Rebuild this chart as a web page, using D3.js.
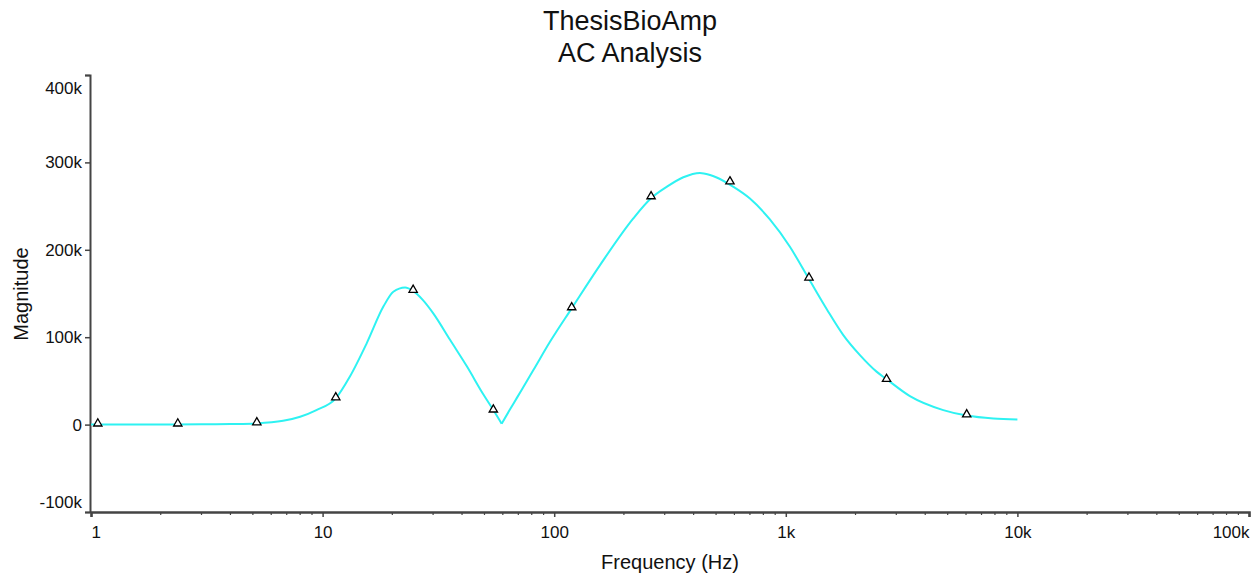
<!DOCTYPE html>
<html>
<head>
<meta charset="utf-8">
<script src="https://cdn.jsdelivr.net/npm/d3@7"></script>
<style>
  body { margin: 0; background: #fff; }
  text { font-family: "Liberation Sans", Arial, sans-serif; fill: #111; }
</style>
</head>
<body>
<div id="chart"></div>
<script>
// Curve samples (Hz, magnitude)
const freqs = [1, 1.5, 2, 3, 4, 5.2, 6.75, 8, 9.4, 11.4, 13.1, 15.5, 18.3, 20.2, 22.7, 24.6, 27, 30.1, 35.5, 41.9, 49.4, 54.6, 59.3,
  64, 68.9, 81.3, 95.9, 119, 157.7, 219.6, 262, 306, 361, 426, 471, 500, 594, 700, 852, 1040, 1259, 1503, 1771, 2090, 2465,
  2723, 3435, 4786, 6040, 7870, 10000];
const magnitude = [0, 0, 100, 300, 700, 1400, 4300, 9000, 16600, 30000, 54700, 93000, 135000, 152000, 157000, 153000, 143000, 127000,
  97000, 67000, 34700, 16600, 1000,
  16000, 30300, 62400, 94700, 133000, 182500, 236000, 259000, 272000, 283000, 288000, 285500, 283000, 272000, 258600, 235000,
  203700, 166500, 132000, 102400, 79500, 60600, 52000, 32600, 16600, 10300, 6900, 5900];
const notchFreq = 59.3;

// Marker points shown as triangles
const markerFreqs = [1.07, 2.37, 5.2, 11.4, 24.6, 54.6, 119, 262, 574, 1259, 2723, 6040];
const markerValues = [0, 0, 1400, 30000, 153000, 16000, 133000, 260000, 277000, 167000, 51000, 10500];

const yTicks = [-100000, 0, 100000, 200000, 300000, 400000];
const yTickLabels = ["-100k", "0", "100k", "200k", "300k", "400k"];
const xTicks = [1, 10, 100, 1000, 10000, 100000];
const xTickLabels = ["1", "10", "100", "1k", "10k", "100k"];

const width = 1258;
const height = 578;
const axisColor = "#444";

const svg = d3.select("#chart")
  .append("svg")
  .attr("width", width)
  .attr("height", height);

const x = d3.scaleLog().domain([1, 100000]).range([91, 1249]);
const y = d3.scaleLinear().domain([-100000, 400000]).range([512, 75]);

// Titles
svg.append("text")
  .attr("x", 630).attr("y", 30)
  .attr("text-anchor", "middle")
  .attr("font-size", "27px")
  .text("ThesisBioAmp");
svg.append("text")
  .attr("x", 630).attr("y", 62)
  .attr("text-anchor", "middle")
  .attr("font-size", "27px")
  .text("AC Analysis");

// Y axis
const yAxis = svg.append("g")
  .attr("transform", "translate(90,0)")
  .call(d3.axisLeft(y)
    .tickValues(yTicks)
    .tickSize(5)
    .tickPadding(3)
    .tickFormat((d, i) => yTickLabels[i]));
yAxis.select(".domain").attr("stroke", axisColor).attr("stroke-width", 2);
yAxis.selectAll(".tick line").attr("stroke", axisColor).attr("stroke-width", 1.5);
yAxis.selectAll(".tick text")
  .attr("font-size", "17px")
  .attr("font-family", "Liberation Sans, Arial, sans-serif")
  .attr("fill", "#111")
  // keep the end labels inside the axis span
  .attr("dy", d => d === 400000 ? "1.1em" : d === -100000 ? "-0.25em" : "0.32em");

// X axis (major)
const xAxis = svg.append("g")
  .attr("transform", "translate(0,512)")
  .call(d3.axisBottom(x)
    .tickValues(xTicks)
    .tickSize(5)
    .tickPadding(9)
    .tickFormat((d, i) => xTickLabels[i]));
xAxis.select(".domain").attr("stroke", axisColor).attr("stroke-width", 2.5);
xAxis.selectAll(".tick line").attr("stroke", axisColor).attr("stroke-width", 1.5);
xAxis.selectAll(".tick text")
  .attr("font-size", "17px")
  .attr("font-family", "Liberation Sans, Arial, sans-serif")
  .attr("fill", "#111")
  // first and last labels sit inside the axis ends
  .attr("text-anchor", (d, i) => i === 0 ? "start" : i === xTicks.length - 1 ? "end" : "middle");

// X axis minor ticks
const minor = [];
xTicks.slice(0, -1).forEach(p => {
  for (let k = 2; k <= 9; k++) minor.push(p * k);
});
svg.append("g")
  .selectAll("line")
  .data(minor)
  .enter().append("line")
  .attr("x1", d => x(d)).attr("x2", d => x(d))
  .attr("y1", 512).attr("y2", 515)
  .attr("stroke", axisColor)
  .attr("stroke-width", 1.2);

// Axis titles
svg.append("text")
  .attr("x", 670).attr("y", 569)
  .attr("text-anchor", "middle")
  .attr("font-size", "20px")
  .text("Frequency (Hz)");
svg.append("text")
  .attr("transform", "translate(28,294) rotate(-90)")
  .attr("text-anchor", "middle")
  .attr("font-size", "20px")
  .text("Magnitude");

// Curve - split at the notch so the V stays sharp
const data = freqs.map((f, i) => ({ f: f, v: magnitude[i] }));
const notchIdx = freqs.indexOf(notchFreq);
const line = d3.line()
  .x(d => x(d.f))
  .y(d => y(d.v))
  .curve(d3.curveMonotoneX);

svg.append("g")
  .selectAll("path")
  .data([data.slice(0, notchIdx + 1), data.slice(notchIdx)])
  .enter().append("path")
  .attr("fill", "none")
  .attr("stroke", "#2ef2f2")
  .attr("stroke-width", 2)
  .attr("d", line);

// Triangle markers
svg.append("g")
  .selectAll("path")
  .data(markerFreqs.map((f, i) => ({ f: f, v: markerValues[i] })))
  .enter().append("path")
  .attr("d", d3.symbol().type(d3.symbolTriangle).size(30))
  .attr("transform", d => `translate(${x(d.f)},${y(d.v) - 1})`)
  .attr("fill", "#fff")
  .attr("stroke", "#000")
  .attr("stroke-width", 1.3);
</script>
</body>
</html>
